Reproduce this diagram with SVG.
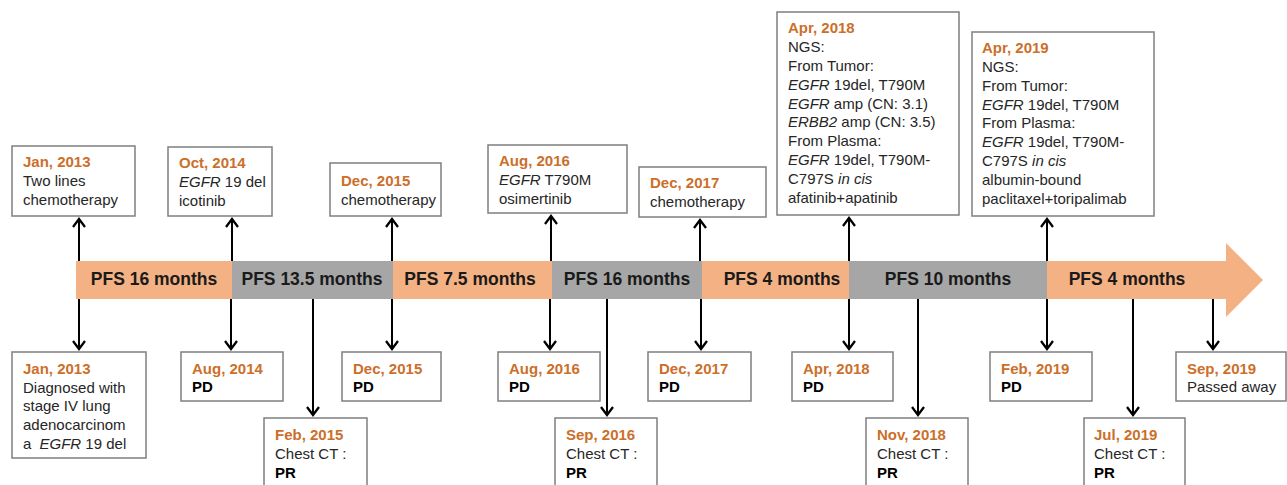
<svg xmlns="http://www.w3.org/2000/svg" width="1287" height="485" viewBox="0 0 1287 485">
<defs>
<marker id="ah" markerUnits="userSpaceOnUse" markerWidth="16" markerHeight="16" refX="0" refY="0" viewBox="-10 -8 12 16" orient="auto">
<path d="M-8,-6 L0,0 L-8,6" fill="none" stroke="#000" stroke-width="2.3"/>
</marker>
<style>
.box{fill:#fff;stroke:#7f7f7f;stroke-width:1.5}
text{font-family:"Liberation Sans",Arial,sans-serif;font-size:15px;fill:#262626}
.d{font-weight:bold;fill:#cc6f2a}
.b{font-weight:bold;fill:#000}
.i{font-style:italic}
.pfs{font-size:17.5px;font-weight:bold;fill:#1a1a1a;text-anchor:middle}
.c{stroke:#000;stroke-width:2;fill:none;marker-end:url(#ah)}
.o{fill:#f4b183}
.g{fill:#a6a6a6}
</style>
</defs>
<rect width="1287" height="485" fill="#fff"/>
<g id="timeline">
<rect class="o" x="76" y="261" width="156" height="38"/>
<rect class="g" x="232" y="261" width="161" height="38"/>
<rect class="o" x="393" y="261" width="159" height="38"/>
<rect class="g" x="552" y="261" width="150" height="38"/>
<rect class="o" x="702" y="261" width="147" height="38"/>
<rect class="g" x="849" y="261" width="198" height="38"/>
<polygon class="o" points="1047,261 1226,261 1226,243 1263,280 1226,317 1226,299 1047,299"/>
<text class="pfs" x="154" y="285">PFS 16 months</text>
<text class="pfs" x="312" y="285">PFS 13.5 months</text>
<text class="pfs" x="470" y="285">PFS 7.5 months</text>
<text class="pfs" x="627" y="285">PFS 16 months</text>
<text class="pfs" x="782" y="285">PFS 4 months</text>
<text class="pfs" x="948" y="285">PFS 10 months</text>
<text class="pfs" x="1127" y="285">PFS 4 months</text>
</g>
<g id="connectors">
<line class="c" x1="79" y1="261" x2="79" y2="219"/>
<line class="c" x1="232" y1="261" x2="232" y2="219"/>
<line class="c" x1="392" y1="261" x2="392" y2="219"/>
<line class="c" x1="551" y1="261" x2="551" y2="216"/>
<line class="c" x1="700" y1="261" x2="700" y2="220"/>
<line class="c" x1="849" y1="261" x2="849" y2="218"/>
<line class="c" x1="1047" y1="261" x2="1047" y2="219"/>
<line class="c" x1="79" y1="299" x2="79" y2="349"/>
<line class="c" x1="231" y1="299" x2="231" y2="349"/>
<line class="c" x1="313" y1="299" x2="313" y2="415"/>
<line class="c" x1="392" y1="299" x2="392" y2="349"/>
<line class="c" x1="550" y1="299" x2="550" y2="349"/>
<line class="c" x1="607" y1="299" x2="607" y2="415"/>
<line class="c" x1="701" y1="299" x2="701" y2="349"/>
<line class="c" x1="849" y1="299" x2="849" y2="349"/>
<line class="c" x1="918" y1="299" x2="918" y2="415"/>
<line class="c" x1="1047" y1="299" x2="1047" y2="349"/>
<line class="c" x1="1133" y1="299" x2="1133" y2="415"/>
<line class="c" x1="1213" y1="299" x2="1213" y2="349"/>
</g>
<g id="top-jan2013">
<rect class="box" x="12" y="146" width="123" height="70"/>
<text class="d" x="23" y="167">Jan, 2013</text>
<text x="23" y="186">Two lines</text>
<text x="23" y="205">chemotherapy</text>
</g>
<g id="top-oct2014">
<rect class="box" x="168" y="147" width="104" height="69"/>
<text class="d" x="179" y="168">Oct, 2014</text>
<text x="179" y="187"><tspan class="i">EGFR</tspan> 19 del</text>
<text x="179" y="206">icotinib</text>
</g>
<g id="top-dec2015">
<rect class="box" x="330" y="163" width="111" height="53"/>
<text class="d" x="341" y="186">Dec, 2015</text>
<text x="341" y="205">chemotherapy</text>
</g>
<g id="top-aug2016">
<rect class="box" x="488" y="145" width="139" height="68"/>
<text class="d" x="499" y="166">Aug, 2016</text>
<text x="499" y="185"><tspan class="i">EGFR</tspan> T790M</text>
<text x="499" y="204">osimertinib</text>
</g>
<g id="top-dec2017">
<rect class="box" x="639" y="167" width="127" height="50"/>
<text class="d" x="650" y="188">Dec, 2017</text>
<text x="650" y="207">chemotherapy</text>
</g>
<g id="top-apr2018">
<rect class="box" x="777" y="12" width="182" height="203"/>
<text class="d" x="788" y="33">Apr, 2018</text>
<text x="788" y="52">NGS:</text>
<text x="788" y="71">From Tumor:</text>
<text x="788" y="90"><tspan class="i">EGFR</tspan> 19del, T790M</text>
<text x="788" y="109"><tspan class="i">EGFR</tspan> amp (CN: 3.1)</text>
<text x="788" y="127"><tspan class="i">ERBB2</tspan> amp (CN: 3.5)</text>
<text x="788" y="146">From Plasma:</text>
<text x="788" y="165"><tspan class="i">EGFR</tspan> 19del, T790M-</text>
<text x="788" y="184">C797S <tspan class="i">in cis</tspan></text>
<text x="788" y="203">afatinib+apatinib</text>
</g>
<g id="top-apr2019">
<rect class="box" x="972" y="32" width="182" height="184"/>
<text class="d" x="982" y="53">Apr, 2019</text>
<text x="982" y="72">NGS:</text>
<text x="982" y="91">From Tumor:</text>
<text x="982" y="110"><tspan class="i">EGFR</tspan> 19del, T790M</text>
<text x="982" y="128">From Plasma:</text>
<text x="982" y="147"><tspan class="i">EGFR</tspan> 19del, T790M-</text>
<text x="982" y="166">C797S <tspan class="i">in cis</tspan></text>
<text x="982" y="185">albumin-bound</text>
<text x="982" y="204">paclitaxel+toripalimab</text>
</g>
<g id="bot-jan2013">
<rect class="box" x="12" y="352" width="134" height="106"/>
<text class="d" x="23" y="374">Jan, 2013</text>
<text x="23" y="393">Diagnosed with</text>
<text x="23" y="411">stage IV lung</text>
<text x="23" y="430">adenocarcinom</text>
<text x="23" y="449">a <tspan class="i" dx="4">EGFR</tspan> 19 del</text>
</g>
<g id="bot-aug2014">
<rect class="box" x="181" y="352" width="102" height="49"/>
<text class="d" x="192" y="374">Aug, 2014</text>
<text class="b" x="192" y="392">PD</text>
</g>
<g id="bot-feb2015">
<rect class="box" x="264" y="418" width="103" height="80"/>
<text class="d" x="275" y="440">Feb, 2015</text>
<text x="275" y="459">Chest CT :</text>
<text class="b" x="275" y="478">PR</text>
</g>
<g id="bot-dec2015">
<rect class="box" x="342" y="352" width="99" height="49"/>
<text class="d" x="353" y="374">Dec, 2015</text>
<text class="b" x="353" y="392">PD</text>
</g>
<g id="bot-aug2016">
<rect class="box" x="498" y="352" width="102" height="49"/>
<text class="d" x="509" y="374">Aug, 2016</text>
<text class="b" x="509" y="392">PD</text>
</g>
<g id="bot-sep2016">
<rect class="box" x="555" y="418" width="102" height="80"/>
<text class="d" x="566" y="440">Sep, 2016</text>
<text x="566" y="459">Chest CT :</text>
<text class="b" x="566" y="478">PR</text>
</g>
<g id="bot-dec2017">
<rect class="box" x="648" y="352" width="103" height="49"/>
<text class="d" x="659" y="374">Dec, 2017</text>
<text class="b" x="659" y="392">PD</text>
</g>
<g id="bot-apr2018">
<rect class="box" x="792" y="352" width="101" height="49"/>
<text class="d" x="803" y="374">Apr, 2018</text>
<text class="b" x="803" y="392">PD</text>
</g>
<g id="bot-nov2018">
<rect class="box" x="866" y="418" width="102" height="80"/>
<text class="d" x="877" y="440">Nov, 2018</text>
<text x="877" y="459">Chest CT :</text>
<text class="b" x="877" y="478">PR</text>
</g>
<g id="bot-feb2019">
<rect class="box" x="990" y="352" width="102" height="49"/>
<text class="d" x="1001" y="374">Feb, 2019</text>
<text class="b" x="1001" y="392">PD</text>
</g>
<g id="bot-jul2019">
<rect class="box" x="1084" y="418" width="101" height="80"/>
<text class="d" x="1094" y="440">Jul, 2019</text>
<text x="1094" y="459">Chest CT :</text>
<text class="b" x="1094" y="478">PR</text>
</g>
<g id="bot-sep2019">
<rect class="box" x="1176" y="352" width="110" height="49"/>
<text class="d" x="1187" y="374">Sep, 2019</text>
<text x="1187" y="392">Passed away</text>
</g>
</svg>
